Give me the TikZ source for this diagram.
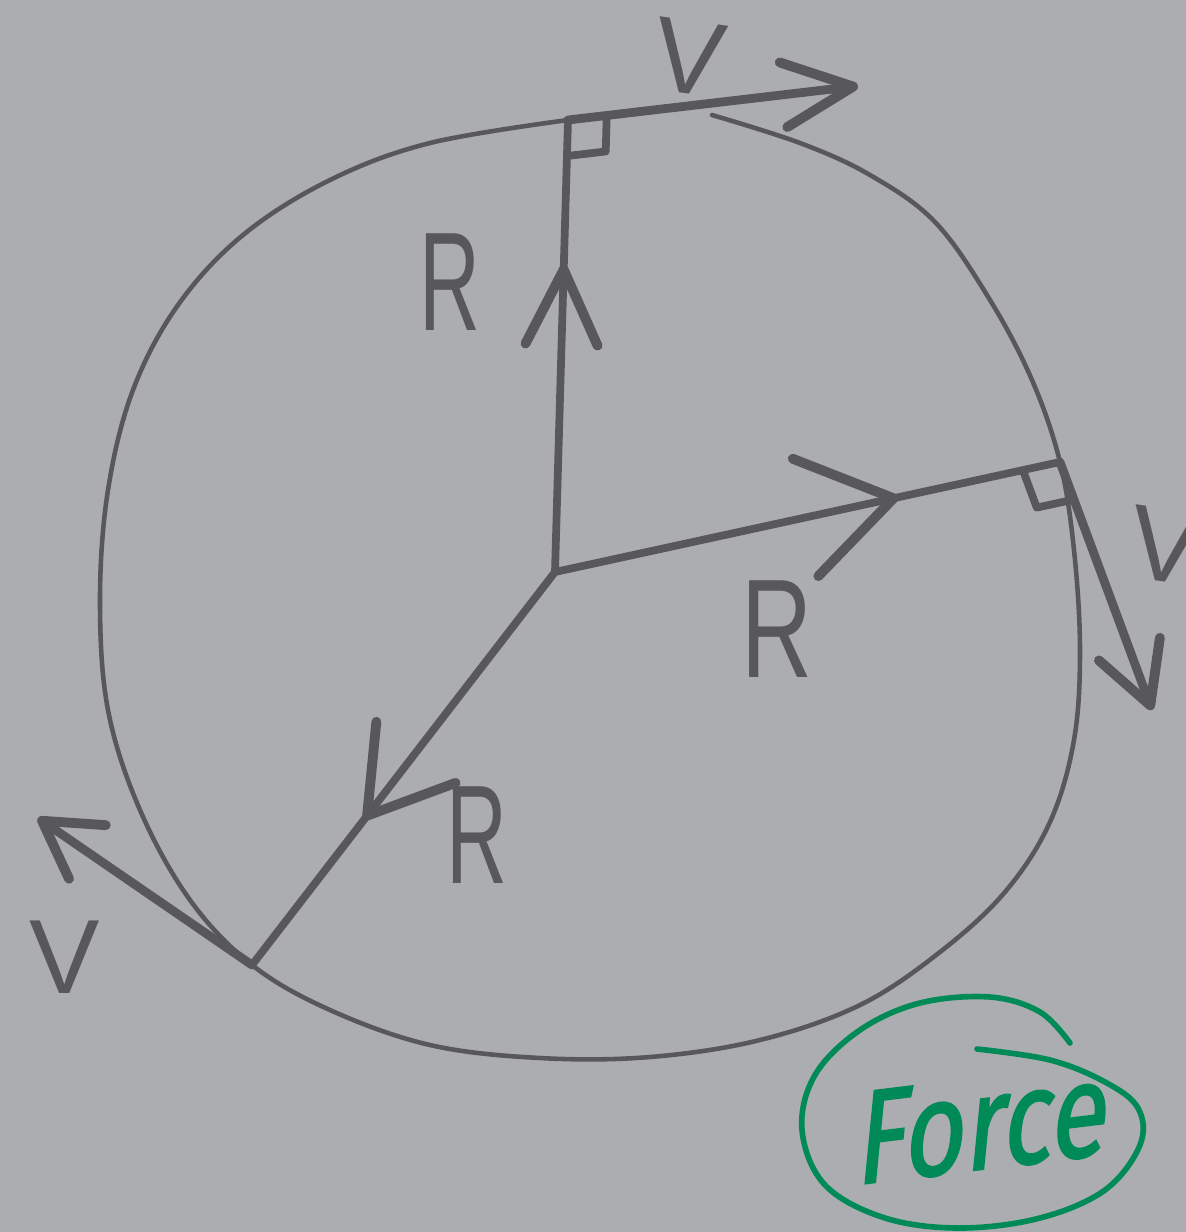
\documentclass[tikz,border=0pt]{standalone}
\usepackage{fontspec}
\usepackage{graphicx}
\setmainfont{Liberation Sans}
\newfontfamily\logofont{Fira Sans}[FakeSlant=0.28, FakeBold=1.5]
\usetikzlibrary{arrows.meta,calc,decorations.markings}
\definecolor{boardgray}{RGB}{172,173,176}
\definecolor{pengray}{RGB}{88,88,90}
\definecolor{logogreen}{RGB}{0,138,88}
\tikzset{
  rim/.style={draw=pengray, line width=1.3pt, line cap=round},
  spoke/.style={draw=pengray, line width=2.2pt, line cap=round},
  vel/.style={draw=pengray, line width=2.5pt, line cap=round,
    -{Straight Barb[round, length=#1, width=6.5mm, line width=2.8pt]}},
  vel/.default=6mm,
  chev/.style n args={3}{postaction={decorate}, decoration={markings,
    mark=at position #1 with {\arrow{Straight Barb[round, length=#2, width=#3, line width=2.8pt]}}}},
  square/.style={draw=pengray, line width=2.2pt, line join=round},
  lbl/.style={text=pengray, inner sep=0pt, font=\fontsize{40}{40}\selectfont},
  vlbl/.style={text=pengray, inner sep=0pt, font=\fontsize{30}{30}\selectfont},
}
\begin{document}
\begin{tikzpicture}[x=0.01cm, y=-0.01cm]
  \fill[boardgray] (0,0) rectangle (1186,1232);
  \clip (0,0) rectangle (1186,1232);

  % points on the rim
  \coordinate (hub) at (555,572);
  \coordinate (rimtop) at (568,120);
  \coordinate (rimright) at (1060,462);
  \coordinate (rimleft) at (252,965);
  \coordinate (vtop) at (858,86);
  \coordinate (vright) at (1152,710);
  \coordinate (vleft) at (38,818);

  % the circle, drawn by hand
  \draw[rim] plot[smooth, tension=0.6] coordinates {
    (712,115) (800,143) (870,175) (935,222) (990,300) (1032,380) (1060,462)
    (1074,550) (1080,650) (1074,740) (1050,822) (1005,892) (940,952)
    (860,1005) (760,1040) (650,1057) (540,1058) (430,1045) (330,1010)
    (252,965) (190,900) (140,810) (108,710) (100,600) (108,490) (133,390)
    (178,305) (243,235) (330,180) (430,143) (568,120)};

  % radii
  \draw[spoke, chev={0.68}{7.5mm}{7.2mm}] (hub) -- (rimtop);
  \draw[spoke, chev={0.68}{9mm}{12mm}] (hub) -- (rimright);
  \draw[spoke, chev={0.63}{8mm}{10mm}] (hub) -- (rimleft);

  % velocities
  \draw[vel=7mm] (rimtop) -- (vtop);
  \draw[vel] (rimright) -- (vright);
  \draw[vel=5.5mm] (rimleft) -- (vleft);

  % right angles
  \coordinate (t1) at ($(rimtop)!3.6mm!(hub)$);
  \coordinate (t2) at ($(rimtop)!3.9mm!(vtop)$);
  \draw[square] (t1) -- ($(t1)+(t2)-(rimtop)$) -- (t2);
  \coordinate (r1) at ($(rimright)!3.8mm!(hub)$);
  \coordinate (r2) at ($(rimright)!4mm!(vright)$);
  \draw[square] (r1) -- ($(r1)+(r2)-(rimright)$) -- (r2);

  % labels
  \node[lbl] (Rtop) at (450,282) {\scalebox{0.6}[1]{R}};
  \node[lbl] (Rright) at (777,629) {\scalebox{0.7}[1]{R}};
  \node[lbl] (Rleft) at (477,835) {\scalebox{0.6}[1]{R}};
  \node[vlbl, rotate=-8] (Vtop) at (689,57) {V};
  \node[vlbl] (Vleft) at (65,957) {V};
  \node[vlbl, rotate=-8] (Vright) at (1165,545) {V};

  % logo
  \draw[logogreen, line width=1.6pt, line cap=round] plot[smooth, tension=0.6] coordinates {
    (1070,1043) (1040,1012) (990,997) (920,1003) (860,1030) (815,1075)
    (802,1130) (825,1185) (885,1218) (960,1228) (1040,1218) (1105,1190)
    (1140,1145) (1138,1108) (1105,1082) (1050,1060) (977,1049)};
  \node[text=logogreen, rotate=7, inner sep=0pt,
    font=\logofont\fontsize{30}{30}\selectfont] (force) at (975,1125) {\scalebox{1}[1.25]{Force}};
\end{tikzpicture}
\end{document}
